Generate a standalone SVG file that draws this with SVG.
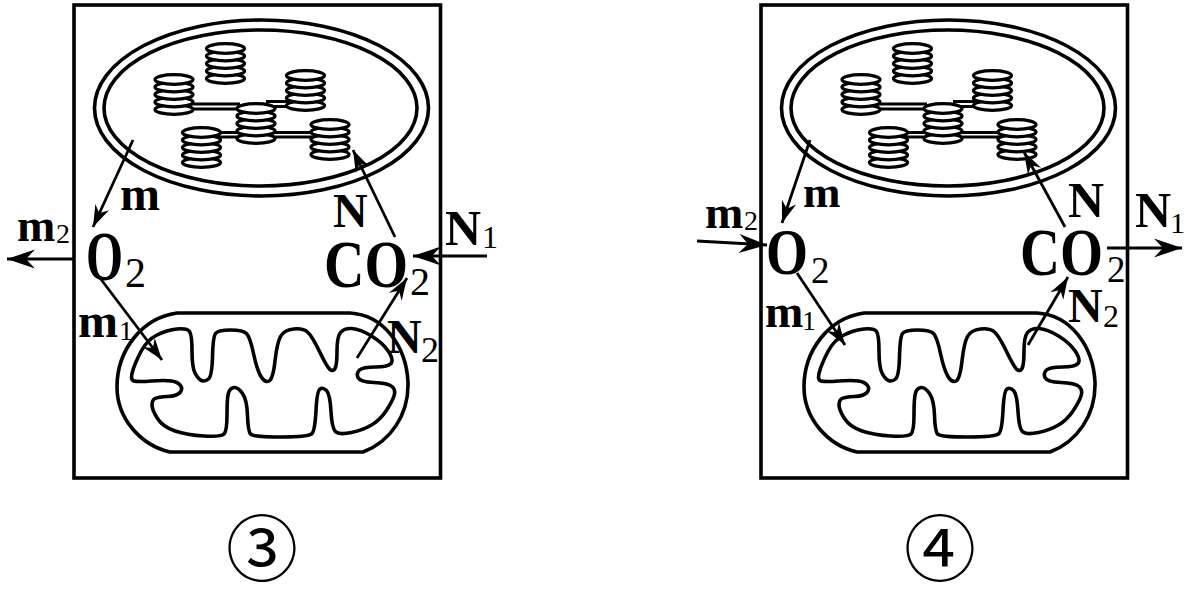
<svg xmlns="http://www.w3.org/2000/svg" xmlns:xlink="http://www.w3.org/1999/xlink" width="1197" height="597" viewBox="0 0 1197 597">
<style>
.ln{fill:none;stroke:#000;stroke-width:3.6}
.wf{fill:#fff;stroke:#000;stroke-width:3.3}
.lam{fill:none;stroke:#000;stroke-width:2.8}
.arr{fill:none;stroke:#000;stroke-width:2.8;marker-end:url(#ah)}
.arrb{fill:none;stroke:#000;stroke-width:3;marker-end:url(#ahb)}
text{font-family:"Liberation Serif","Times New Roman",serif;fill:#000}
.b{font-weight:bold}
.s{font-weight:normal}
.circ{font-family:"Noto Sans CJK JP","Noto Sans CJK SC",sans-serif;font-weight:normal}
</style>
<defs>
<marker id="ah" markerUnits="userSpaceOnUse" markerWidth="30" markerHeight="20" viewBox="-24 -10 28 20" refX="0" refY="0" orient="auto">
<path d="M0,0 L-22,-7.5 L-15,0 L-22,7.5 Z" fill="#000"/>
</marker>
<marker id="ahb" markerUnits="userSpaceOnUse" markerWidth="34" markerHeight="24" viewBox="-30 -12 32 24" refX="0" refY="0" orient="auto">
<path d="M0,0 L-28,-9.5 L-19,0 L-28,9.5 Z" fill="#000"/>
</marker>
<g id="granum">
<ellipse class="wf" cx="0" cy="30" rx="19" ry="4.9"/>
<ellipse class="wf" cx="0" cy="22.5" rx="19" ry="4.9"/>
<ellipse class="wf" cx="0" cy="15" rx="19" ry="4.9"/>
<ellipse class="wf" cx="0" cy="7.5" rx="19" ry="4.9"/>
<ellipse class="wf" cx="0" cy="0" rx="19" ry="4.9"/>
</g>
<g id="chloro">
<ellipse class="ln" cx="261.5" cy="108" rx="167" ry="88"/>
<ellipse class="ln" cx="260.5" cy="108" rx="156.5" ry="78"/>
<path class="lam" d="M190,104 H240 M190,109 H240 M266,101.5 H292 M266,106.5 H292 M216,132.5 H240 M216,137 H240 M272,132.5 H314 M272,137 H314"/>
<use xlink:href="#granum" x="225.5" y="48.5"/>
<use xlink:href="#granum" x="174" y="79.5"/>
<use xlink:href="#granum" x="305.5" y="75.5"/>
<use xlink:href="#granum" x="256" y="108.5"/>
<use xlink:href="#granum" x="201.5" y="132.5"/>
<use xlink:href="#granum" x="330" y="124.5"/>
</g>
<g id="mito">
<path class="ln" d="M177,313 L350,313 C383,315 406,345 408,382 C409,415 390,442 363,452 L170,452 C140,445 117,418 117,387 C117,350 142,318 177,313 Z"/>
<path class="ln" d="M134,381 Q130,380 132.5,371.5 Q135,363 141,351.5 Q147,340 157,335 Q167,330 177,329 Q187,328 189.5,331.5 Q192,335 192,351 Q192,367 195,373 Q198,379 201.5,380.5 Q205,382 208.5,379 Q212,376 212.5,356.5 Q213,337 215.5,333.5 Q218,330 230.5,330 Q243,330 246.5,333.5 Q250,337 253.5,353.5 Q257,370 261,376.5 Q265,383 269,381 Q273,379 275,361 Q277,343 280.5,336.5 Q284,330 293.5,329 Q303,328 307.5,332 Q312,336 319.5,351.5 Q327,367 330,369.5 Q333,372 335,368.5 Q337,365 337,351 Q337,337 340.5,332.5 Q344,328 352,328.5 Q360,329 371.5,336 Q383,343 388.5,351.5 Q394,360 391,363.5 Q388,367 375.5,367 Q363,367 359.5,370 Q356,373 358,377.5 Q360,382 374,382.5 Q388,383 392,386.5 Q396,390 394,396 Q392,402 386,411 Q380,420 371.5,425 Q363,430 351.5,432.5 Q340,435 336,432 Q332,429 331,411.5 Q330,394 326.5,390.5 Q323,387 320,389 Q317,391 316,410.5 Q315,430 312,433.5 Q309,437 281,437 Q253,437 250.5,434 Q248,431 247.5,415.5 Q247,400 242.5,393.5 Q238,387 234,387.5 Q230,388 228.5,393 Q227,398 227,414.5 Q227,431 224,434 Q221,437 204,436 Q187,435 175,431 Q163,427 157.5,418.5 Q152,410 152,405 Q152,400 155,398.5 Q158,397 167.5,396.5 Q177,396 180,392.5 Q183,389 180.5,385.5 Q178,382 171.5,381 Q165,380 151.5,381 Q138,382 134,381 Z"/>
</g>
</defs>

<g id="cell-3">
<rect class="ln" x="74" y="5" width="366.5" height="473"/>
</g>
<g id="chloroplast-3"><use xlink:href="#chloro"/></g>
<g id="mitochondrion-3"><use xlink:href="#mito"/></g>

<g id="cell-4" transform="translate(687,0)">
<rect class="ln" x="74" y="5" width="366.5" height="473"/>
</g>
<g id="chloroplast-4" transform="translate(687,0)"><use xlink:href="#chloro"/></g>
<g id="mitochondrion-4" transform="translate(687,0)"><use xlink:href="#mito"/></g>

<g id="connectors">
<line class="arr" x1="133" y1="140" x2="93" y2="227"/>
<line class="arr" x1="395" y1="237" x2="353" y2="150"/>
<line class="arr" x1="100" y1="278" x2="162" y2="360"/>
<line class="arr" x1="357" y1="358" x2="407" y2="278"/>
<line class="arrb" x1="75" y1="259" x2="7" y2="259"/>
<line class="arrb" x1="487" y1="256" x2="413" y2="256"/>
<line class="arr" x1="810" y1="140" x2="782" y2="223"/>
<line class="arr" x1="1065" y1="227" x2="1024" y2="152"/>
<line class="arr" x1="797" y1="273" x2="845" y2="345"/>
<line class="arr" x1="1028" y1="345" x2="1068" y2="277"/>
<line class="arrb" x1="697" y1="241" x2="767" y2="245"/>
<line class="arrb" x1="1107" y1="248" x2="1182" y2="248"/>
</g>

<g id="labels-3">
<g id="O2-3"><text class="b" x="86" y="280" font-size="70"><tspan textLength="37" lengthAdjust="spacingAndGlyphs">O</tspan><tspan class="s" x="125" y="287" font-size="42">2</tspan></text></g>
<g id="CO2-3"><text class="b" x="324" y="287" font-size="68"><tspan textLength="84" lengthAdjust="spacingAndGlyphs">CO</tspan><tspan class="s" x="410" y="295" font-size="40">2</tspan></text></g>
<text class="b" x="120" y="210" font-size="48">m</text>
<text class="b" x="333" y="227" font-size="48">N</text>
<text class="b" x="17" y="241" font-size="46">m<tspan class="s" x="56" y="243" font-size="28">2</tspan></text>
<text class="b" x="78" y="337" font-size="48">m<tspan class="s" x="119" y="340" font-size="28">1</tspan></text>
<text class="b" x="445" y="245" font-size="50">N<tspan class="s" x="482" y="248" font-size="32">1</tspan></text>
<text class="b" x="387" y="353" font-size="48">N<tspan class="s" x="421" y="362" font-size="36">2</tspan></text>
</g>

<g id="labels-4">
<g id="O2-4"><text class="b" x="766" y="274" font-size="66"><tspan textLength="42" lengthAdjust="spacingAndGlyphs">O</tspan><tspan class="s" x="811" y="283" font-size="37">2</tspan></text></g>
<g id="CO2-4"><text class="b" x="1020" y="275" font-size="68"><tspan textLength="83" lengthAdjust="spacingAndGlyphs">CO</tspan><tspan class="s" x="1107" y="282" font-size="37">2</tspan></text></g>
<text class="b" x="803" y="207" font-size="45">m</text>
<text class="b" x="1068" y="217" font-size="50">N</text>
<text class="b" x="705" y="228" font-size="46">m<tspan class="s" x="744" y="230" font-size="28">2</tspan></text>
<text class="b" x="765" y="327" font-size="46">m<tspan class="s" x="802" y="330" font-size="28">1</tspan></text>
<text class="b" x="1135" y="227" font-size="50">N<tspan class="s" x="1170" y="233" font-size="30">1</tspan></text>
<text class="b" x="1068" y="322" font-size="48">N<tspan class="s" x="1103" y="327" font-size="32">2</tspan></text>
</g>

<g id="caption-3"><text class="circ" x="262" y="575" font-size="72" text-anchor="middle">③</text></g>
<g id="caption-4"><text class="circ" x="940" y="575" font-size="72" text-anchor="middle">④</text></g>
</svg>
